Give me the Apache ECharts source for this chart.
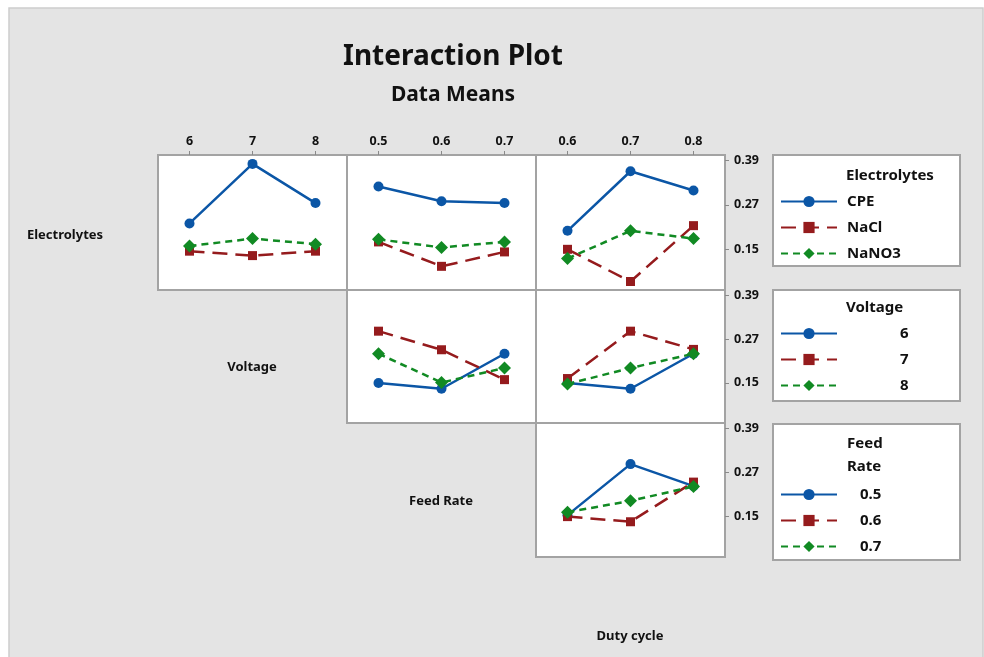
<!DOCTYPE html>
<html>
<head>
<meta charset="utf-8">
<script src="https://cdn.jsdelivr.net/npm/echarts@6/dist/echarts.min.js"></script>
<style>
html,body{margin:0;padding:0;background:#fff;}
#chart_main{width:984px;height:657px;}
</style>
</head>
<body>
<div id="chart_main"></div>
<script type="text/javascript">
// factor levels
var voltageLevels = ['6', '7', '8'];
var feedLevels = ['0.5', '0.6', '0.7'];
var dutyLevels = ['0.6', '0.7', '0.8'];
var electrolyteNames = ['CPE', 'NaCl', 'NaNO3'];
var yTicks = [0.15, 0.27, 0.39];

// means, one row per line
var elecByVoltage = [[0.220, 0.381, 0.275], [0.145, 0.133, 0.145], [0.159, 0.179, 0.164]];
var elecByFeed = [[0.320, 0.280, 0.275], [0.170, 0.104, 0.143], [0.177, 0.155, 0.170]];
var elecByDuty = [[0.200, 0.361, 0.309], [0.150, 0.063, 0.214], [0.125, 0.200, 0.179]];
var voltByFeed = [[0.150, 0.134, 0.230], [0.292, 0.241, 0.159], [0.230, 0.151, 0.191]];
var voltByDuty = [[0.150, 0.134, 0.230], [0.162, 0.292, 0.242], [0.147, 0.191, 0.230]];
var feedByDuty = [[0.154, 0.293, 0.233], [0.150, 0.136, 0.244], [0.162, 0.193, 0.232]];

var FONT = '"Noto Sans", "DejaVu Sans", sans-serif';
var lineLook = [
	{color: '#0b56a6', type: 'solid', symbol: 'circle', size: 10},
	{color: '#951b1d', type: [15, 8], symbol: 'rect', size: 9},
	{color: '#118a23', type: [7, 5], symbol: 'diamond', size: 13}
];

// panel layout
var colX = [158, 347, 536];
var rowY = [155, 290, 423];
var rowH = [135, 133, 134];
var panels = [
	{r: 0, c: 0, x: voltageLevels, names: electrolyteNames, data: elecByVoltage},
	{r: 0, c: 1, x: feedLevels, names: electrolyteNames, data: elecByFeed},
	{r: 0, c: 2, x: dutyLevels, names: electrolyteNames, data: elecByDuty},
	{r: 1, c: 1, x: feedLevels, names: voltageLevels, data: voltByFeed},
	{r: 1, c: 2, x: dutyLevels, names: voltageLevels, data: voltByDuty},
	{r: 2, c: 2, x: dutyLevels, names: feedLevels, data: feedByDuty}
];

var grids = [], xAxes = [], yAxes = [], series = [];
panels.forEach(function(p, i){
	grids.push({
		left: colX[p.c], top: rowY[p.r], width: 189, height: rowH[p.r],
		show: true, backgroundColor: '#fff', borderColor: '#a3a3a3', borderWidth: 2
	});
	var top = p.r === 0;
	xAxes.push({
		gridIndex: i, type: 'category', data: p.x, position: 'top',
		axisLine: {show: false},
		axisTick: {show: top, alignWithLabel: true, length: 4, lineStyle: {color: '#8a8a8a'}},
		axisLabel: {show: top, margin: 7, color: '#111', fontFamily: FONT, fontSize: 12.5, fontWeight: 'bold'},
		splitLine: {show: false}
	});
	var right = p.c === 2;
	yAxes.push({
		gridIndex: i, type: 'value', min: 0.04, max: 0.405, position: 'right',
		axisLine: {show: false},
		axisTick: {show: right, length: 4, customValues: yTicks, lineStyle: {color: '#8a8a8a'}},
		axisLabel: {show: right, margin: 9, customValues: yTicks, color: '#111', fontFamily: FONT, fontSize: 12.5, fontWeight: 'bold',
			formatter: function(v){ return v.toFixed(2); }},
		splitLine: {show: false}
	});
	p.names.forEach(function(nm, k){
		var lk = lineLook[k];
		series.push({
			name: nm, type: 'line', xAxisIndex: i, yAxisIndex: i,
			data: p.data[k], symbol: lk.symbol, symbolSize: lk.size,
			itemStyle: {color: lk.color},
			lineStyle: {color: lk.color, width: 2.5, type: lk.type},
			animation: false
		});
	});
});

function legendBox(names, top, pad){
	return {
		data: names, orient: 'vertical', left: 780, top: top, padding: 0,
		itemWidth: 56, itemHeight: 14, itemGap: 11,
		textStyle: {color: '#111', fontFamily: FONT, fontSize: 15, fontWeight: 'bold', lineHeight: 14, padding: [0, 0, 0, pad]}
	};
}

function label(txt, x, y, size, align){
	return {type: 'text', x: x, y: y, style: {text: txt, fill: '#111', font: 'bold ' + size + 'px ' + FONT, textAlign: align || 'center', textVerticalAlign: 'middle'}};
}

var option = {
	backgroundColor: '#fff',
	animation: false,
	grid: grids,
	xAxis: xAxes,
	yAxis: yAxes,
	series: series,
	legend: [
		legendBox(electrolyteNames, 194, 5),
		legendBox(voltageLevels, 326, 58),
		legendBox(feedLevels, 487, 18)
	],
	graphic: [
		{type: 'rect', z: -10, shape: {x: 9, y: 8, width: 974, height: 650}, style: {fill: '#e4e4e4', stroke: '#cdcdcd', lineWidth: 1.5}},
		{type: 'rect', shape: {x: 773, y: 155, width: 187, height: 111}, style: {fill: '#fff', stroke: '#a3a3a3', lineWidth: 2}},
		{type: 'rect', shape: {x: 773, y: 290, width: 187, height: 111}, style: {fill: '#fff', stroke: '#a3a3a3', lineWidth: 2}},
		{type: 'rect', shape: {x: 773, y: 424, width: 187, height: 136}, style: {fill: '#fff', stroke: '#a3a3a3', lineWidth: 2}},
		label('Interaction Plot', 453, 57, 28),
		label('Data Means', 453, 95, 21),
		label('Electrolytes', 65, 235, 13),
		label('Voltage', 252, 367, 13),
		label('Feed Rate', 441, 501, 13),
		label('Duty cycle', 630, 636, 13),
		label('Electrolytes', 846, 176, 15, 'left'),
		label('Voltage', 846, 308, 15, 'left'),
		label('Feed', 847, 444, 15, 'left'),
		label('Rate', 847, 467, 15, 'left')
	]
};

var myChart = echarts.init(document.getElementById('chart_main'));
myChart.setOption(option);
</script>
</body>
</html>
